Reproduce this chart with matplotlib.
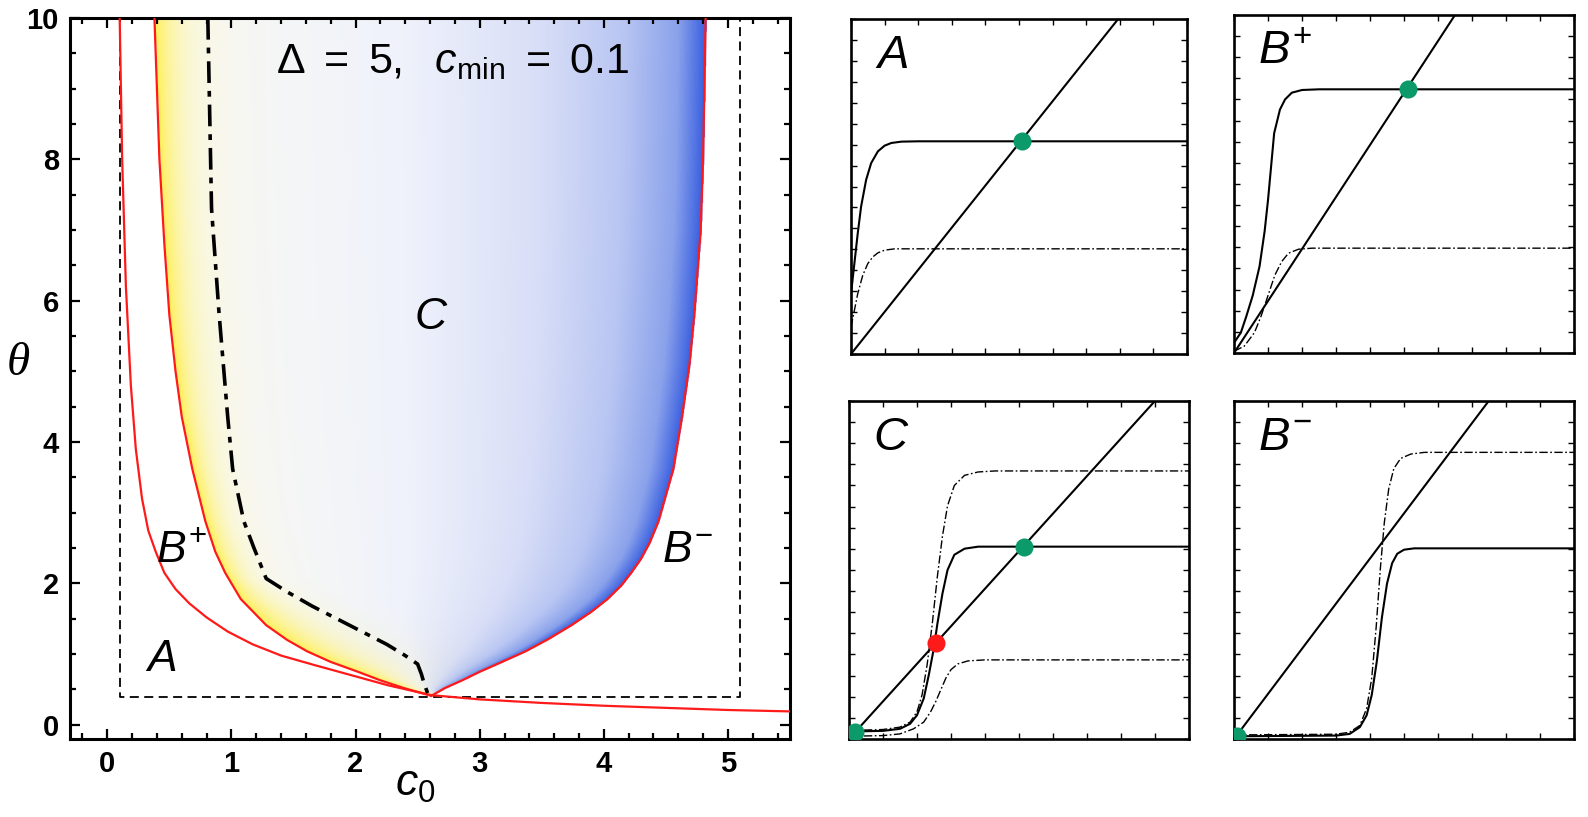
import numpy as np
import matplotlib
matplotlib.use('Agg')
import matplotlib.pyplot as plt
from matplotlib.colors import LinearSegmentedColormap
from matplotlib.ticker import MultipleLocator, NullFormatter

plt.rcParams['font.family'] = ['Liberation Sans', 'DejaVu Sans']
plt.rcParams['mathtext.fontset'] = 'custom'
plt.rcParams['mathtext.rm'] = 'Liberation Sans'
plt.rcParams['mathtext.it'] = 'Liberation Sans:italic'
plt.rcParams['mathtext.bf'] = 'Liberation Sans:bold'

# ---- left phase diagram (c0, theta) ----
red_A_c0 = [0.10, 0.12, 0.15, 0.19, 0.23, 0.28, 0.33, 0.39, 0.46, 0.55, 0.66, 0.80, 0.97,
            1.17, 1.40, 1.66, 1.95, 2.26, 2.61, 3.0, 3.5, 4.0, 4.5, 5.0, 5.5]
red_A_theta = [10.0, 8.0, 6.2, 4.8, 3.9, 3.2, 2.75, 2.45, 2.15, 1.92, 1.72, 1.52, 1.32,
               1.14, 0.98, 0.85, 0.71, 0.56, 0.42, 0.36, 0.31, 0.27, 0.24, 0.21, 0.19]

red_Bp_c0 = [0.38, 0.42, 0.46, 0.50, 0.55, 0.60, 0.685, 0.79, 0.87, 0.95, 1.075, 1.28, 1.45,
             1.61, 1.80, 2.02, 2.20, 2.39, 2.61]
red_Bp_theta = [10.0, 8.0, 6.8, 5.8, 5.0, 4.36, 3.62, 2.88, 2.45, 2.15, 1.78, 1.41, 1.20,
                1.04, 0.89, 0.75, 0.63, 0.52, 0.41]

red_Bm_c0 = [2.61, 2.72, 2.86, 3.00, 3.18, 3.37, 3.55, 3.74, 3.90, 4.03, 4.14, 4.22, 4.30,
             4.37, 4.44, 4.56, 4.63, 4.69, 4.73, 4.78, 4.80, 4.82]
red_Bm_theta = [0.41, 0.52, 0.63, 0.75, 0.89, 1.04, 1.21, 1.41, 1.60, 1.78, 1.97, 2.15, 2.35,
                2.58, 2.88, 3.62, 4.36, 5.1, 5.83, 7.0, 8.05, 10.0]

dd_c0 = [0.81, 0.84, 0.90, 0.97, 1.01, 1.10, 1.18, 1.28, 1.45, 1.65, 1.85, 2.05, 2.25,
         2.40, 2.50, 2.53, 2.55, 2.58]
dd_theta = [10.0, 7.3, 5.83, 4.36, 3.62, 2.88, 2.51, 2.07, 1.88, 1.68, 1.50, 1.32, 1.14,
            0.98, 0.86, 0.72, 0.60, 0.45]

box_c0 = (0.1, 5.1)
box_theta_min = 0.4

# ---- small panels (axes fractions) ----
panel_names = ['A', 'B^{+}', 'C', 'B^{-}']
line_top_x = [0.795, 0.65, 0.90, 0.749]

solid_x = [
    [0, 0.01, 0.02, 0.03, 0.045, 0.06, 0.08, 0.10, 0.12, 0.15, 0.2, 1.0],
    [0, 0.02, 0.036, 0.055, 0.075, 0.09, 0.10, 0.118, 0.135, 0.15, 0.17, 0.2, 0.25, 1.0],
    [0, 0.1, 0.15, 0.18, 0.2, 0.22, 0.235, 0.25, 0.26, 0.275, 0.29, 0.31, 0.34, 0.38, 1.0],
    [0, 0.3, 0.34, 0.37, 0.39, 0.405, 0.42, 0.435, 0.45, 0.465, 0.48, 0.5, 0.53, 1.0],
]
solid_y = [
    [0.18, 0.27, 0.36, 0.44, 0.52, 0.57, 0.605, 0.622, 0.630, 0.634, 0.635, 0.635],
    [0.03, 0.06, 0.108, 0.17, 0.256, 0.36, 0.453, 0.65, 0.72, 0.75, 0.77, 0.778, 0.78, 0.78],
    [0.022, 0.024, 0.03, 0.045, 0.07, 0.12, 0.19, 0.27, 0.34, 0.43, 0.50, 0.545, 0.563, 0.569, 0.569],
    [0.008, 0.01, 0.015, 0.035, 0.07, 0.13, 0.23, 0.36, 0.46, 0.52, 0.548, 0.56, 0.564, 0.564],
]

dashdot_x = [
    [[0, 0.01, 0.02, 0.035, 0.05, 0.065, 0.08, 0.10, 0.13, 1.0]],
    [[0, 0.03, 0.06, 0.08, 0.10, 0.12, 0.14, 0.16, 0.19, 0.23, 1.0]],
    [[0, 0.1, 0.15, 0.18, 0.2, 0.215, 0.23, 0.245, 0.26, 0.275, 0.29, 0.31, 0.34, 0.38, 0.43, 1.0],
     [0, 0.1, 0.15, 0.19, 0.22, 0.24, 0.255, 0.27, 0.285, 0.30, 0.32, 0.35, 0.4, 1.0]],
    [[0, 0.3, 0.34, 0.37, 0.39, 0.405, 0.418, 0.43, 0.442, 0.455, 0.47, 0.49, 0.52, 0.56, 1.0]],
]
dashdot_y = [
    [[0.08, 0.13, 0.18, 0.235, 0.27, 0.29, 0.302, 0.310, 0.314, 0.314]],
    [[0.005, 0.02, 0.06, 0.11, 0.17, 0.23, 0.27, 0.295, 0.307, 0.31, 0.31]],
    [[0.025, 0.028, 0.035, 0.05, 0.08, 0.13, 0.22, 0.34, 0.48, 0.6, 0.69, 0.75, 0.78, 0.79, 0.793, 0.793],
     [0.008, 0.01, 0.015, 0.03, 0.05, 0.08, 0.11, 0.145, 0.18, 0.205, 0.222, 0.231, 0.234, 0.234]],
    [[0.012, 0.014, 0.02, 0.04, 0.09, 0.18, 0.33, 0.5, 0.64, 0.74, 0.8, 0.83, 0.843, 0.848, 0.848]],
]

# fixed points: (x, y, stable?)
fixed_points = [
    [(0.51, 0.635, True)],
    [(0.512, 0.78, True)],
    [(0.516, 0.569, True), (0.256, 0.285, False), (0.018, 0.022, True)],
    [(0.008, 0.010, True)],
]

panel_rects = [
    [0.5359, 0.5667, 0.2116, 0.4100],
    [0.7771, 0.5680, 0.2141, 0.4137],
    [0.5346, 0.0955, 0.2141, 0.4137],
    [0.7771, 0.0955, 0.2141, 0.4137],
]

GREEN = '#0c9a6a'
RED = '#ff1a1a'
DOTDASH = (0, (6, 1.8, 1.2, 1.8))

fig = plt.figure(figsize=(15.88, 8.17), dpi=100)

ax = fig.add_axes([0.0441, 0.0955, 0.4534, 0.8825])

# colour shading of region C
cc, tt = np.meshgrid(np.linspace(0.3, 4.9, 900), np.linspace(0.4, 10, 900))
o = np.argsort(red_Bp_theta)
left = np.interp(tt, np.array(red_Bp_theta)[o], np.array(red_Bp_c0)[o])
o = np.argsort(red_Bm_theta)
right = np.interp(tt, np.array(red_Bm_theta)[o], np.array(red_Bm_c0)[o])
o = np.argsort(dd_theta)
mid = np.interp(tt, np.array(dd_theta)[o], np.array(dd_c0)[o])
span = np.maximum(right - left, 1e-6)
t = (cc - left) / span
inside = (t >= 0) & (t <= 1) & (tt >= 0.41)
blue_cmap = LinearSegmentedColormap.from_list(
    'blues', [(0, '#fafaf2'), (0.45, '#eff2fb'), (0.7, '#d8def7'),
              (0.85, '#b9c6f3'), (0.95, '#8aa2eb'), (1.0, '#3b60e0')])
rgba = blue_cmap(np.clip(t, 0, 1))
ywidth = np.maximum(0.4 * (mid - left), 0.05)
wy = np.exp(-np.clip(cc - left, 0, None) / ywidth)
yellow = np.array([1.0, 0.94, 0.35])
rgba[..., :3] = rgba[..., :3] * (1 - wy[..., None]) + yellow * wy[..., None]
rgba[..., 3] = inside.astype(float)
ax.imshow(rgba, extent=(0.3, 4.9, 0.4, 10), origin='lower', aspect='auto',
          interpolation='bilinear', zorder=0)

ax.plot(red_A_c0, red_A_theta, color=RED, lw=1.6, zorder=3)
ax.plot(red_Bp_c0, red_Bp_theta, color=RED, lw=1.6, zorder=3)
ax.plot(red_Bm_c0, red_Bm_theta, color=RED, lw=1.6, zorder=3)
ax.plot(dd_c0, dd_theta, color='k', lw=2.6, linestyle=(0, (6, 2.2, 1.6, 2.2)), zorder=4)
ax.plot([box_c0[0], box_c0[0], box_c0[1], box_c0[1]],
        [10.5, box_theta_min, box_theta_min, 10.5],
        color='k', lw=1.3, linestyle=(0, (5, 3)), zorder=2)

ax.set_xlim(-0.3, 5.5)
ax.set_ylim(-0.2, 10)
ax.set_xticks(range(6), labels=[str(v) for v in range(6)], fontweight='bold', fontsize=21)
ax.set_yticks(range(0, 11, 2), labels=[str(v) for v in range(0, 11, 2)],
              fontweight='bold', fontsize=21)
ax.xaxis.set_minor_locator(MultipleLocator(0.2))
ax.yaxis.set_minor_locator(MultipleLocator(0.5))
ax.tick_params(which='both', direction='in', top=True, right=True, width=1.6)
ax.tick_params(which='major', length=7, pad=8)
ax.tick_params(which='minor', length=4)
for s in ax.spines.values():
    s.set_linewidth(2.2)

ax.set_xlabel(r'$c_0$', fontsize=32)
ax.xaxis.set_label_coords(0.48, -0.035)
ax.set_ylabel('θ', family='Liberation Serif', style='italic', fontsize=34, rotation=0,
              ha='center', va='center')
ax.yaxis.set_label_coords(-0.072, 0.52)

ax.text(2.78, 9.37, r'$\Delta\ =\ 5,\ \ c_{\mathrm{min}}\ =\ 0.1$', fontsize=31,
        ha='center', va='center', zorder=5)
ax.text(2.61, 5.76, r'$C$', fontsize=32, ha='center', va='center')
ax.text(0.43, 0.93, r'$A$', fontsize=32, ha='center', va='center')
ax.text(0.39, 2.46, r'$B^{+}$', fontsize=32, ha='left', va='center')
ax.text(4.47, 2.46, r'$B^{-}$', fontsize=32, ha='left', va='center')

for i in range(4):
    pa = fig.add_axes(panel_rects[i])
    pa.plot([0, line_top_x[i]], [0, 1], color='k', lw=1.5)
    pa.plot(solid_x[i], solid_y[i], color='k', lw=1.5)
    for xs, ys in zip(dashdot_x[i], dashdot_y[i]):
        pa.plot(xs, ys, color='k', lw=1.0, linestyle=DOTDASH)
    for fx, fy, stable in fixed_points[i]:
        pa.plot(fx, fy, 'o', ms=13, color=GREEN if stable else RED, mec='none', zorder=5)
    pa.text(0.07, 0.855, '$' + panel_names[i] + '$', fontsize=34, transform=pa.transAxes,
            ha='left', va='baseline')
    pa.set_xlim(0, 1)
    pa.set_ylim(0, 1)
    pa.xaxis.set_major_locator(MultipleLocator(0.1))
    pa.yaxis.set_major_locator(MultipleLocator(1 / 16))
    pa.xaxis.set_major_formatter(NullFormatter())
    pa.yaxis.set_major_formatter(NullFormatter())
    pa.tick_params(direction='in', top=True, right=True, length=4, width=1)
    for s in pa.spines.values():
        s.set_linewidth(1.9)

fig.savefig('out.png', dpi=100)
